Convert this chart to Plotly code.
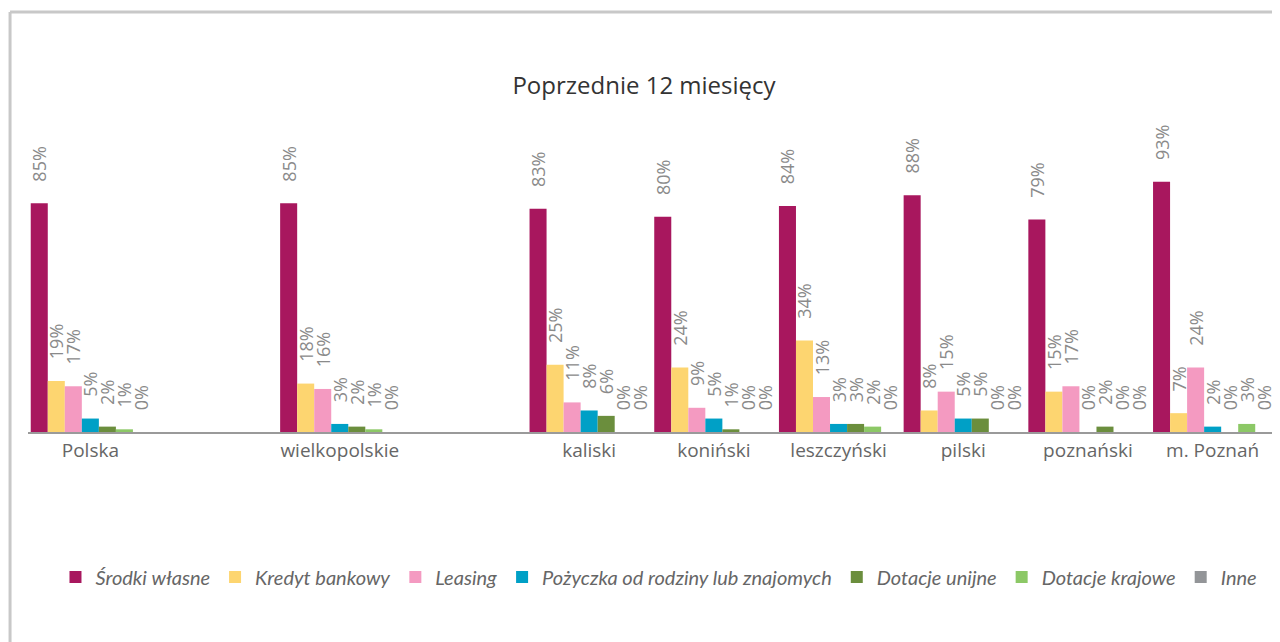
import plotly.graph_objects as go

# regions (blank slots keep the gaps between the groups)
regions = ['Polska', ' ', 'wielkopolskie', '  ', 'kaliski', 'koniński',
           'leszczyński', 'pilski', 'poznański', 'm. Poznań']

srodki_wlasne = [85, None, 85, None, 83, 80, 84, 88, 79, 93]
kredyt_bankowy = [19, None, 18, None, 25, 24, 34, 8, 15, 7]
leasing = [17, None, 16, None, 11, 9, 13, 15, 17, 24]
pozyczka = [5, None, 3, None, 8, 5, 3, 5, 0, 2]
dotacje_unijne = [2, None, 2, None, 6, 1, 3, 5, 2, 0]
dotacje_krajowe = [1, None, 1, None, 0, 0, 2, 0, 0, 3]
inne = [0, None, 0, None, 0, 0, 0, 0, 0, 0]

series = [
    ('Środki własne', srodki_wlasne, '#A8175E'),
    ('Kredyt bankowy', kredyt_bankowy, '#FDD570'),
    ('Leasing', leasing, '#F49AC1'),
    ('Pożyczka od rodziny lub znajomych', pozyczka, '#00A0C6'),
    ('Dotacje unijne', dotacje_unijne, '#6B8E3D'),
    ('Dotacje krajowe', dotacje_krajowe, '#8CC866'),
    ('Inne', inne, '#939598'),
]

fig = go.Figure()
for name, vals, color in series:
    fig.add_trace(go.Bar(
        name=name, x=regions, y=vals,
        marker=dict(color=color, line=dict(width=0)),
        text=[None if v is None else '\u00a0\u00a0\u00a0\u00a0%d%%' % v for v in vals],
        textposition='outside', textangle=-90, constraintext='none',
        textfont=dict(family='Open Sans', size=18, color='#8a8a8a'),
        cliponaxis=False, hoverinfo='x+y+name',
    ))

# the page body adds an 8px offset, so the figure is 8px smaller than the window
fig.update_layout(
    width=1272, height=634,
    paper_bgcolor='white', plot_bgcolor='white',
    margin=dict(l=20, r=5, t=155, b=210, autoexpand=False),
    barmode='group', bargap=0.044, bargroupgap=0,
    title=dict(text='Poprzednie 12 miesięcy', x=0.5, xanchor='center',
               y=1 - 78 / 634, yanchor='middle',
               font=dict(family='Open Sans', size=24, color='#333333')),
    xaxis=dict(showline=True, linecolor='#9a9a9a', linewidth=2, ticks='',
               showgrid=False, tickfont=dict(family='Open Sans', size=19, color='#666666')),
    yaxis=dict(range=[0, 100], visible=False, showgrid=False),
    legend=dict(orientation='h', x=0.506, xanchor='center', y=-0.539, yanchor='middle',
                font=dict(family='Lato', size=20, color='#666666', style='italic'),
                itemwidth=30, traceorder='normal'),
    showlegend=True,
    shapes=[
        dict(type='line', xref='paper', yref='paper', x0=-0.0144, x1=-0.0144, y0=1.561, y1=-0.8,
             line=dict(color='#c8c8c8', width=3)),
        dict(type='line', xref='paper', yref='paper', x0=-0.0144, x1=1.01, y0=1.561, y1=1.561,
             line=dict(color='#c8c8c8', width=3)),
    ],
)

fig.write_html('out.html')
